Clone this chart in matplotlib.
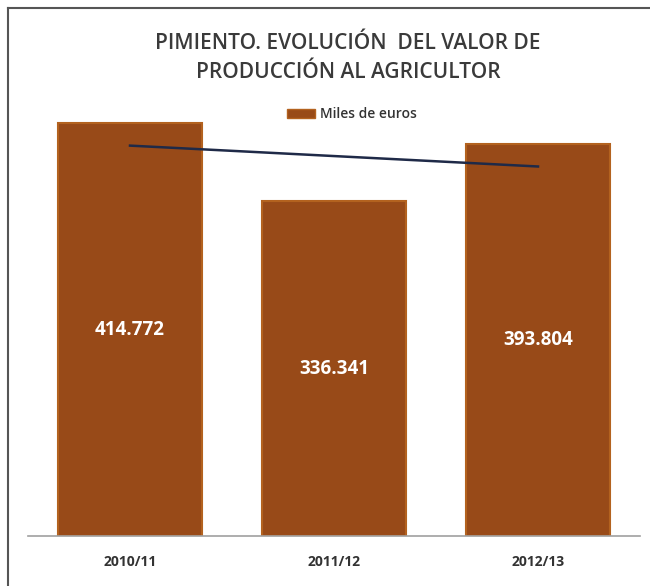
import numpy as np
import matplotlib
matplotlib.use("Agg")
import matplotlib.pyplot as plt
from matplotlib.lines import Line2D
from matplotlib.patches import Patch

categories = ["2010/11", "2011/12", "2012/13"]
values = [414772, 336341, 393804]
value_labels = ["414.772", "336.341", "393.804"]
title = "PIMIENTO. EVOLUCIÓN  DEL VALOR DE\nPRODUCCIÓN AL AGRICULTOR"
legend_label = "Miles de euros"

plt.rcParams['font.family'] = ['Open Sans', 'DejaVu Sans']

fig = plt.figure(figsize=(6.5, 5.86), dpi=100)
ax = fig.add_axes([28/650, 1-536/586, 612/650, (536-88)/586])

x = np.arange(len(categories))
bars = ax.bar(x, values, width=0.71, color='#984A18', edgecolor='#B3621F', linewidth=1.5, zorder=2)

# linear trend line
coef = np.polyfit(x, values, 1)
ax.plot([x[0], x[-1]], np.polyval(coef, [x[0], x[-1]]), color='#1F2A48', lw=1.8, zorder=3)

for xi, v, lab in zip(x, values, value_labels):
    ax.text(xi, v/2, lab, ha='center', va='center', color='white', fontsize=13.5, fontweight='bold', zorder=4)

ax.set_xlim(-0.5, 2.5)
ax.set_ylim(0, 450000)
ax.set_yticks([])
ax.set_xticks(x)
ax.set_xticklabels(categories, fontsize=10, fontweight='bold', color='#333333')
ax.tick_params(axis='x', length=0, pad=14)
for s in ['top', 'right', 'left']:
    ax.spines[s].set_visible(False)
ax.spines['bottom'].set_color('#A0A0A0')
ax.spines['bottom'].set_linewidth(1.2)

fig.text(348/650, 1-58/586, title, ha='center', va='center', fontsize=15, color='#3A3A3A',
         linespacing=1.55, fontweight='semibold')
leg = fig.legend(handles=[Patch(facecolor='#984A18', edgecolor='#B3621F')], labels=[legend_label],
                 loc='center', bbox_to_anchor=(352/650, 1-114/586), frameon=False,
                 prop={'size': 10, 'weight': 'semibold'},
                 handlelength=2.0, handleheight=0.6, handletextpad=0.4)
for t in leg.get_texts():
    t.set_color('#333333')

# figure border lines (top and left)
fig.add_artist(Line2D([8/650, 1], [1-8/586, 1-8/586], transform=fig.transFigure, color='#555555', lw=1.5))
fig.add_artist(Line2D([8/650, 8/650], [0, 1-8/586], transform=fig.transFigure, color='#555555', lw=1.5))

fig.savefig("out.png", dpi=100)
